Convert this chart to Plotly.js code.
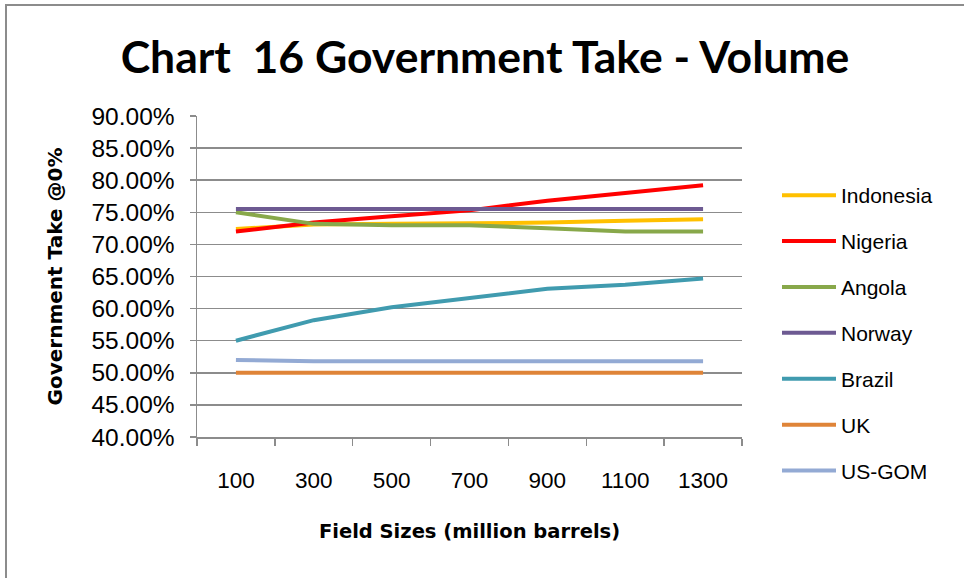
<!DOCTYPE html>
<html>
<head>
<meta charset="utf-8">
<script src="https://cdn.plot.ly/plotly-3.0.1.min.js"></script>
<style>
  html, body { margin: 0; padding: 0; background: #fff; }
  #wrap { position: relative; width: 964px; height: 578px; overflow: hidden; }
  #chart { width: 964px; height: 578px; }
  #frame { position: absolute; left: 5px; top: 4px; width: 980px; height: 600px;
           border-top: 2px solid #8c8c8c; border-left: 2px solid #8c8c8c; pointer-events: none; }
</style>
</head>
<body>
<div id="wrap">
  <div id="chart"></div>
  <div id="frame"></div>
</div>
<script>
const categories = ['100', '300', '500', '700', '900', '1100', '1300'];
const seriesNames = ['Indonesia', 'Nigeria', 'Angola', 'Norway', 'Brazil', 'UK', 'US-GOM'];
const indonesia = [72.4, 73.1, 73.2, 73.3, 73.4, 73.7, 73.9];
const nigeria   = [72.0, 73.4, 74.4, 75.3, 76.8, 78.0, 79.2];
const angola    = [75.0, 73.2, 73.0, 73.0, 72.5, 72.0, 72.0];
const norway    = [75.5, 75.5, 75.5, 75.5, 75.5, 75.5, 75.5];
const brazil    = [55.0, 58.2, 60.2, 61.7, 63.1, 63.7, 64.7];
const uk        = [50.0, 50.0, 50.0, 50.0, 50.0, 50.0, 50.0];
const usgom     = [52.0, 51.8, 51.8, 51.8, 51.8, 51.8, 51.8];
const seriesValues = [indonesia, nigeria, angola, norway, brazil, uk, usgom];
const seriesColors = ['#FFC000', '#FF0000', '#88A84A', '#6D5A92', '#409BAF', '#DF8438', '#93AAD4'];

const traces = seriesNames.map((name, i) => ({
  type: 'scatter',
  mode: 'lines',
  name: name,
  legendgroup: name,
  x: categories,
  y: seriesValues[i],
  line: { color: seriesColors[i], width: 4 }
}));

const gridColor = '#8c8c8c';

const layout = {
  width: 964,
  height: 578,
  paper_bgcolor: '#ffffff',
  plot_bgcolor: '#ffffff',
  margin: { l: 197, r: 222, t: 116, b: 141 },
  showlegend: true,
  title: {
    text: 'Chart \u00a016 Government Take - Volume',
    font: { family: 'Lato, Liberation Sans, sans-serif', size: 44.5, color: '#000', weight: 'bold' },
    xref: 'container', yref: 'container',
    x: 485 / 964, xanchor: 'center',
    y: 1 - 57 / 578, yanchor: 'middle'
  },
  xaxis: {
    type: 'category',
    range: [-0.5, 6.5],
    tickson: 'boundaries',
    ticks: 'outside',
    ticklen: 7,
    tickwidth: 1.5,
    tickcolor: gridColor,
    showline: true,
    linecolor: gridColor,
    linewidth: 1.5,
    showgrid: false,
    zeroline: false,
    ticklabelstandoff: 22,
    tickfont: { family: 'Liberation Sans, Arial, sans-serif', size: 22.5, color: '#000' },
    title: {
      text: 'Field Sizes (million barrels)',
      font: { family: 'DejaVu Sans, sans-serif', size: 19.5, color: '#000', weight: 'bold' },
      standoff: 33
    },
    fixedrange: true
  },
  yaxis: {
    range: [40, 90],
    dtick: 5,
    tick0: 40,
    tickformat: '.2f',
    ticksuffix: '%',
    ticks: 'outside',
    ticklen: 6,
    tickwidth: 1.5,
    tickcolor: gridColor,
    showline: true,
    linecolor: gridColor,
    linewidth: 1.5,
    showgrid: true,
    gridcolor: gridColor,
    gridwidth: 1.5,
    zeroline: false,
    ticklabelstandoff: 10,
    tickfont: { family: 'Liberation Sans, Arial, sans-serif', size: 24.5, color: '#000' },
    title: {
      text: 'Government Take @0%',
      font: { family: 'DejaVu Sans, sans-serif', size: 20, color: '#000', weight: 'bold' },
      standoff: 23
    },
    fixedrange: true
  },
  legend: {
    xref: 'container', yref: 'container',
    x: 777 / 964, xanchor: 'left',
    y: 1 - 175 / 578, yanchor: 'top',
    font: { family: 'Liberation Sans, Arial, sans-serif', size: 21, color: '#000' },
    itemwidth: 54,
    tracegroupgap: 15.6,
    maxheight: 400,
    bgcolor: 'rgba(0,0,0,0)'
  }
};

Plotly.newPlot('chart', traces, layout, { displayModeBar: false, staticPlot: true });
</script>
</body>
</html>
